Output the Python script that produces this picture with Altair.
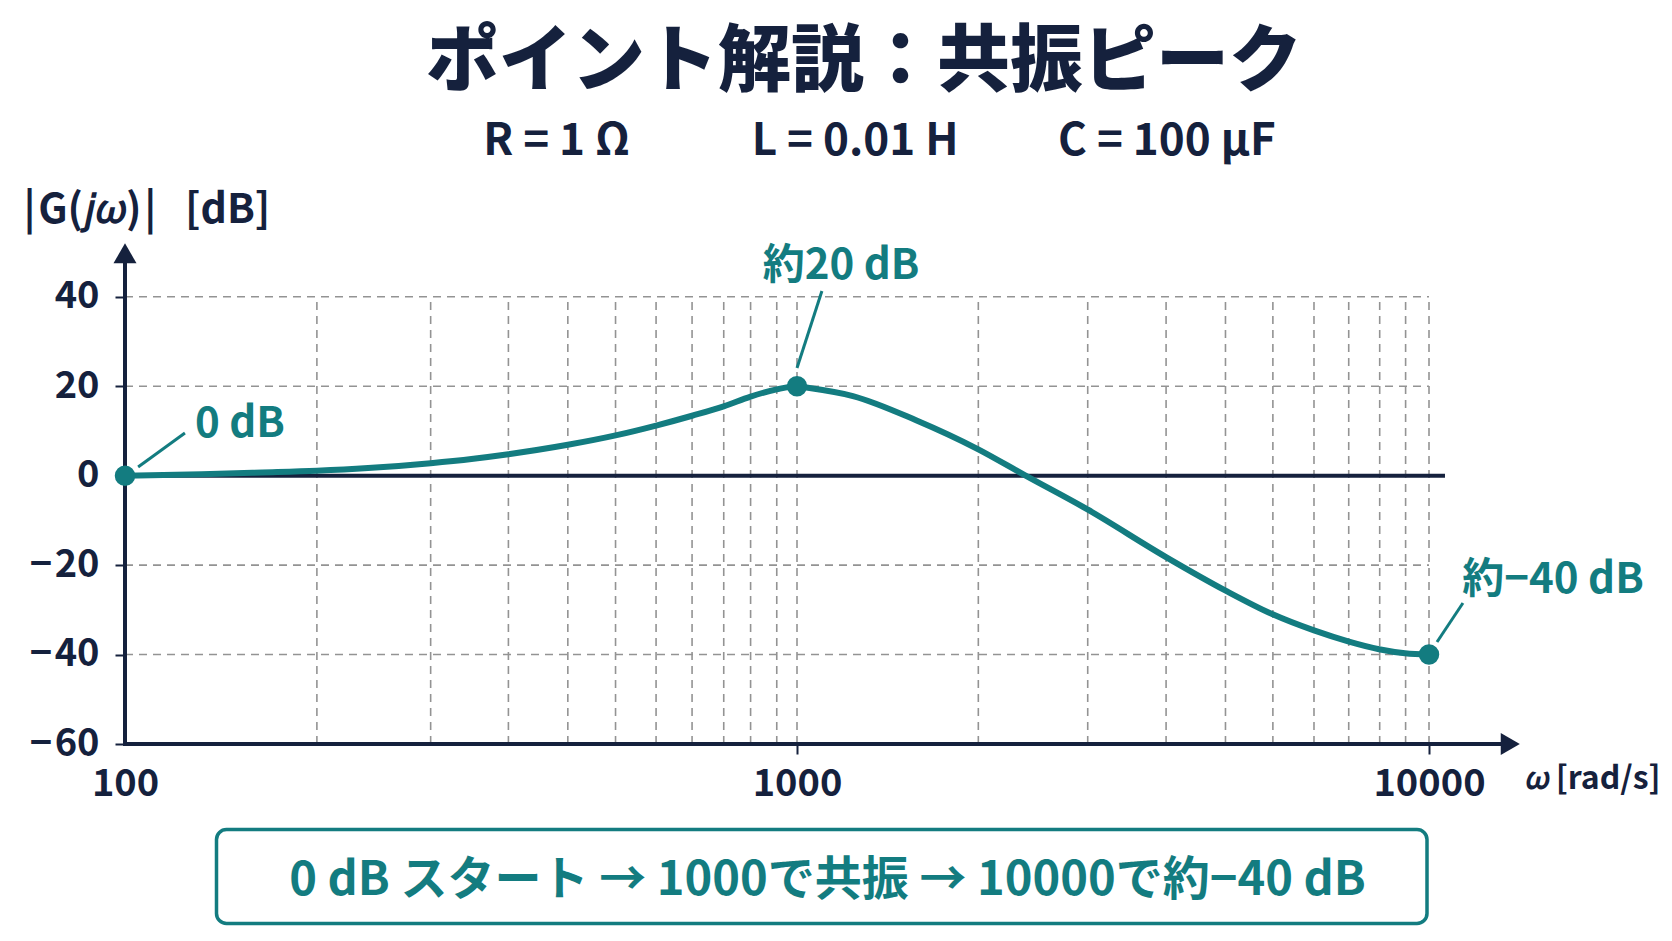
import altair as alt
import pandas as pd

NAVY = "#15213d"
TEAL = "#137c80"
GRID = "#939393"
FONT = "Noto Sans CJK JP"

# Gain |G(jω)| in dB sampled along ω [rad/s]
omega = [100, 130, 160, 193, 230, 285, 330, 372, 456, 537, 617, 698, 778, 853, 933,
         1000, 1036, 1226, 1543, 1929, 2300, 2877, 3836, 4766, 5658, 6577, 7470,
         8335, 9164, 10000]
gain_db = [0, 0.3, 0.7, 1.1, 1.7, 2.8, 3.8, 4.8, 6.9, 9.0, 11.2, 13.4, 15.5, 17.7, 19.3,
           20, 19.7, 17.8, 12.4, 6.0, 0, -7.5, -18.2, -25.7, -31.0, -34.6, -37.1,
           -38.8, -39.7, -40]

# Highlighted points and their labels
mark_omega = [100, 1000, 10000]
mark_db = [0, 20, -40]
mark_label = ["0 dB", "約20 dB", "約−40 dB"]

# Grid positions
grid_omega = [193, 285, 372, 456, 537, 617, 698, 778, 853, 933, 1000,
              1936, 2884, 3837, 4764, 5662, 6577, 7464, 8356, 9183, 10000]
grid_db = [40, 20, -20, -40]
y_ticks = [-60, -40, -20, 0, 20, 40]
x_ticks = [100, 1000, 10000]

title_text = "ポイント解説：共振ピーク"
params_text = ("\u200b\u2002\u2009R = 1 Ω"
               "\u2003\u2003\u2002\u2009\u200a"
               "L = 0.01 H"
               "\u2003\u2003\u2009\u200a"
               "C = 100 μF")
caption_text = "0 dB スタート → 1000で共振 → 10000で約−40 dB"
y_title = "|\u200aG(𝑗𝜔)\u200a|\u2002\u2009[dB]"
x_title = "𝜔 [rad/s]"

# Axis extents (arrow tips)
X_END = 14085
Y_TOP = 52.7

curve_df = pd.DataFrame({"omega": omega, "db": gain_db})
marks_df = pd.DataFrame({"omega": mark_omega, "db": mark_db, "label": mark_label})
one_row = pd.DataFrame({"k": [0]})

x_scale = alt.Scale(type="log", domain=[100, 1000, 10000, X_END],
                    range=[0, 672, 1304, 1398], nice=False)
y_scale = alt.Scale(domain=[-60, Y_TOP], nice=False, zero=False)

x_axis = alt.Axis(
    values=x_ticks, format="d", domain=False, grid=False,
    tickSize=10, tickWidth=2,
    tickColor=alt.condition("datum.value <= 100", alt.value("transparent"), alt.value(NAVY)),
    labelFont=FONT, labelFontSize=38, labelFontWeight="bold", labelColor=NAVY,
    labelPadding=11, labelFlush=False, labelOverlap=False,
    title=x_title, titleX=1400, titleY=34, titleAlign="left",
    titleBaseline="middle", titleAngle=0, titleFont=FONT, titleFontSize=32,
    titleFontWeight="bold", titleColor=NAVY,
)
y_axis = alt.Axis(
    values=y_ticks, domain=False, grid=False,
    tickSize=10, tickWidth=2, tickColor=NAVY,
    labelExpr="datum.value < 0 ? '−\u200a' + abs(datum.value) : '' + datum.value",
    labelFont=FONT, labelFontSize=38, labelFontWeight="bold", labelColor=NAVY,
    labelPadding=16, labelFlush=False, labelOverlap=False,
    title=y_title, titleAngle=0, titleAlign="left", titleBaseline="middle",
    titleX=-102, titleY=-30, titleFont=FONT, titleFontSize=41,
    titleFontWeight="bold", titleColor=NAVY,
)

# dashed grid
vgrid = alt.Chart(pd.DataFrame({"omega": grid_omega})).mark_rule(
    stroke=GRID, strokeWidth=1.6, strokeDash=[8, 6]
).encode(x="omega:Q", y=alt.datum(-60), y2=alt.datum(40))

hgrid = alt.Chart(pd.DataFrame({"db": grid_db})).mark_rule(
    stroke=GRID, strokeWidth=1.6, strokeDash=[8, 6]
).encode(y="db:Q", x=alt.datum(100), x2=alt.datum(10000))

# axis lines with arrowheads
y_line = alt.Chart(one_row).mark_rule(stroke=NAVY, strokeWidth=4, strokeCap="square").encode(
    x=alt.datum(100), y=alt.datum(-60), y2=alt.datum(Y_TOP - 3))
x_line = alt.Chart(one_row).mark_rule(stroke=NAVY, strokeWidth=4, strokeCap="square").encode(
    y=alt.datum(-60), x=alt.datum(100), x2=alt.datum(13448))
y_arrow = alt.Chart(one_row).mark_point(shape="triangle-up", filled=True, size=529,
                                         color=NAVY, opacity=1).encode(
    x=alt.datum(100), y=alt.datum(Y_TOP - 2.97))
x_arrow = alt.Chart(one_row).mark_point(shape="triangle-right", filled=True, size=484,
                                         color=NAVY, opacity=1).encode(
    x=alt.datum(13448), y=alt.datum(-60))

zero_line = alt.Chart(one_row).mark_rule(stroke=NAVY, strokeWidth=4).encode(
    y=alt.datum(0), x=alt.datum(100), x2=alt.datum(10600))

curve = alt.Chart(curve_df).mark_line(color=TEAL, strokeWidth=6, interpolate="monotone").encode(
    x=alt.X("omega:Q", scale=x_scale, axis=x_axis),
    y=alt.Y("db:Q", scale=y_scale, axis=y_axis),
)

# leader lines from each point towards its label
leader_offsets = [(1.046, 1.95, 1.228, 9.55), (1.0, 4.08, 1.095, 21.3), (1.0296, 2.81, 1.1317, 11.53)]
leaders_df = pd.DataFrame({
    "x1": [o * f[0] for o, f in zip(mark_omega, leader_offsets)],
    "y1": [d + f[1] for d, f in zip(mark_db, leader_offsets)],
    "x2": [o * f[2] for o, f in zip(mark_omega, leader_offsets)],
    "y2": [d + f[3] for d, f in zip(mark_db, leader_offsets)],
})
leaders = alt.Chart(leaders_df).mark_rule(stroke=TEAL, strokeWidth=3).encode(
    x="x1:Q", y="y1:Q", x2="x2:Q", y2="y2:Q")

points = alt.Chart(marks_df).mark_circle(size=420, color=TEAL, opacity=1).encode(
    x="omega:Q", y="db:Q")

label_style = dict(font=FONT, fontSize=42, fontWeight="bold", color=TEAL, baseline="middle")
label_layers = [
    alt.Chart(marks_df).transform_filter(alt.datum.omega == 100)
    .mark_text(align="left", dx=70, dy=-52, **label_style).encode(x="omega:Q", y="db:Q", text="label:N"),
    alt.Chart(marks_df).transform_filter(alt.datum.omega == 1000)
    .mark_text(align="center", dx=44, dy=-120, **label_style).encode(x="omega:Q", y="db:Q", text="label:N"),
    alt.Chart(marks_df).transform_filter(alt.datum.omega == 10000)
    .mark_text(align="center", dx=124, dy=-75, **label_style).encode(x="omega:Q", y="db:Q", text="label:N"),
]

# summary box under the plot
caption_box = alt.Chart(one_row).mark_rect(
    fill="white", stroke=TEAL, strokeWidth=3.5, cornerRadius=10
).encode(x=alt.value(91.5), x2=alt.value(1302), y=alt.value(589.6), y2=alt.value(683.5))
caption = alt.Chart(one_row).mark_text(
    text=caption_text, font=FONT, fontSize=47, fontWeight="bold", color=TEAL,
    align="center", baseline="middle"
).encode(x=alt.value(702.5), y=alt.value(640.5))

chart = alt.layer(
    vgrid, hgrid, zero_line, curve, y_line, x_line, leaders, points,
    *label_layers, y_arrow, x_arrow, caption_box, caption,
).properties(
    width=1398, height=504,
    padding={"left": 125, "top": 240, "right": 149, "bottom": 197},
    autosize=alt.AutoSizeParams(type="none"),
    background="white",
    title=alt.TitleParams(
        text=title_text, subtitle=params_text, anchor="middle", frame="group",
        dx=40, offset=25.5, font=FONT, fontSize=73, fontWeight=900, color=NAVY,
        subtitleFont=FONT, subtitleFontSize=44, subtitleFontWeight="bold",
        subtitleColor=NAVY, subtitlePadding=19.5,
    ),
).configure_view(stroke="transparent")

chart.save("out.html", embed_options={"renderer": "svg", "actions": False})
